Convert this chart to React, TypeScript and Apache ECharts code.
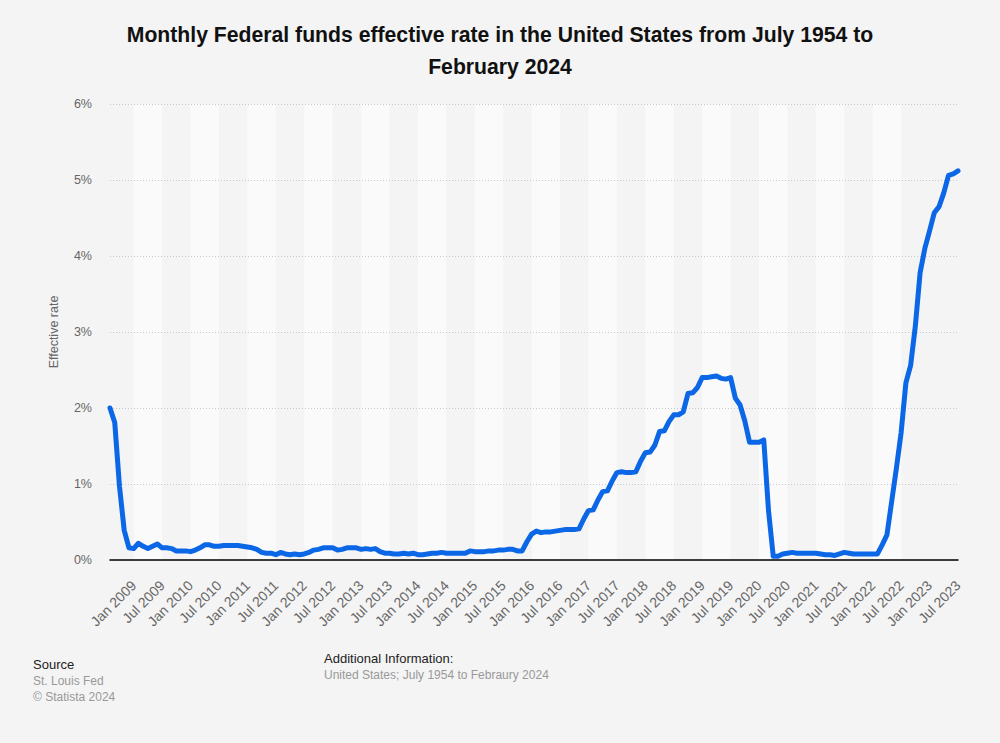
import React, { useEffect, useRef } from "react";
import * as echarts from "echarts";

const startYear = 2008;
const startMonth = 7; // 0-based, August
const monthNames = ["Jan", "Feb", "Mar", "Apr", "May", "Jun", "Jul", "Aug", "Sep", "Oct", "Nov", "Dec"];

const rates2008 = [2.0, 1.81, 0.97, 0.39, 0.16];
const rates2009 = [0.15, 0.22, 0.18, 0.15, 0.18, 0.21, 0.16, 0.16, 0.15, 0.12, 0.12, 0.12];
const rates2010 = [0.11, 0.13, 0.16, 0.2, 0.2, 0.18, 0.18, 0.19, 0.19, 0.19, 0.19, 0.18];
const rates2011 = [0.17, 0.16, 0.14, 0.1, 0.09, 0.09, 0.07, 0.1, 0.08, 0.07, 0.08, 0.07];
const rates2012 = [0.08, 0.1, 0.13, 0.14, 0.16, 0.16, 0.16, 0.13, 0.14, 0.16, 0.16, 0.16];
const rates2013 = [0.14, 0.15, 0.14, 0.15, 0.11, 0.09, 0.09, 0.08, 0.08, 0.09, 0.08, 0.09];
const rates2014 = [0.07, 0.07, 0.08, 0.09, 0.09, 0.1, 0.09, 0.09, 0.09, 0.09, 0.09, 0.12];
const rates2015 = [0.11, 0.11, 0.11, 0.12, 0.12, 0.13, 0.13, 0.14, 0.14, 0.12, 0.12, 0.24];
const rates2016 = [0.34, 0.38, 0.36, 0.37, 0.37, 0.38, 0.39, 0.4, 0.4, 0.4, 0.41, 0.54];
const rates2017 = [0.65, 0.66, 0.79, 0.9, 0.91, 1.04, 1.15, 1.16, 1.15, 1.15, 1.16, 1.3];
const rates2018 = [1.41, 1.42, 1.51, 1.69, 1.7, 1.82, 1.91, 1.91, 1.95, 2.19, 2.2, 2.27];
const rates2019 = [2.4, 2.4, 2.41, 2.42, 2.39, 2.38, 2.4, 2.13, 2.04, 1.83, 1.55, 1.55];
const rates2020 = [1.55, 1.58, 0.65, 0.05, 0.05, 0.08, 0.09, 0.1, 0.09, 0.09, 0.09, 0.09];
const rates2021 = [0.09, 0.08, 0.07, 0.07, 0.06, 0.08, 0.1, 0.09, 0.08, 0.08, 0.08, 0.08];
const rates2022 = [0.08, 0.08, 0.2, 0.33, 0.77, 1.21, 1.68, 2.33, 2.56, 3.08, 3.78, 4.1];
const rates2023 = [4.33, 4.57, 4.65, 4.83, 5.06, 5.08, 5.12];

const rates = [
  ...rates2008, ...rates2009, ...rates2010, ...rates2011, ...rates2012, ...rates2013,
  ...rates2014, ...rates2015, ...rates2016, ...rates2017, ...rates2018, ...rates2019,
  ...rates2020, ...rates2021, ...rates2022, ...rates2023,
];

const categories = rates.map((_, i) => {
  const m = startMonth + i;
  return `${monthNames[m % 12]} ${startYear + Math.floor(m / 12)}`;
});

const bandYears = [2009, 2010, 2011, 2012, 2013, 2014, 2015, 2016, 2017, 2018, 2019, 2020, 2021, 2022];
const yTicks = [0, 1, 2, 3, 4, 5, 6];

const FONT = "'Liberation Sans', Arial, Helvetica, sans-serif";

export default function App() {
  const ref = useRef<HTMLDivElement>(null);
  useEffect(() => {
    const chart = echarts.init(ref.current!, undefined, { renderer: "svg" });
    const isLabel = (idx: number) => {
      const m = (startMonth + idx) % 12;
      return m === 0 || m === 6;
    };
    chart.setOption({
      animation: false,
      backgroundColor: "#f4f4f4",
      textStyle: { fontFamily: FONT },
      title: {
        text: "Monthly Federal funds effective rate in the United States from July 1954 to\nFebruary 2024",
        left: "center",
        top: 13,
        textStyle: { fontSize: 21.2, fontWeight: "bold", color: "#111", lineHeight: 32, fontFamily: FONT },
      },
      grid: { left: 110, right: 42, top: 104, bottom: 183 },
      xAxis: {
        type: "category",
        data: categories,
        boundaryGap: false,
        z: 1.5,
        axisLine: { show: true, lineStyle: { color: "#000", width: 1.5 } },
        axisTick: { show: false },
        axisLabel: {
          interval: (idx: number) => isLabel(idx),
          rotate: 45,
          color: "#666",
          fontSize: 14,
          fontFamily: FONT,
          margin: 23,
        },
        splitLine: { show: false },
      },
      yAxis: {
        type: "value",
        min: 0,
        max: 6,
        interval: 1,
        z: 1.5,
        name: "Effective rate",
        nameLocation: "middle",
        nameGap: 50,
        nameTextStyle: { color: "#666", fontSize: 12.5, fontFamily: FONT },
        axisLine: { show: false },
        axisTick: { show: false },
        axisLabel: {
          color: "#666",
          fontSize: 12.5,
          margin: 18,
          fontFamily: FONT,
          formatter: (v: number) => (yTicks.includes(v) ? `${v}%` : ""),
        },
        splitLine: { show: true, lineStyle: { color: "#c8c8c8", type: [1, 2], width: 1 } },
      },
      series: [
        {
          type: "line",
          name: "bands",
          data: [],
          z: 1,
          silent: true,
          markArea: {
            silent: true,
            z: 1,
            itemStyle: { color: "#fafafa" },
            data: bandYears.map((y) => [{ xAxis: `Jan ${y}` }, { xAxis: `Jul ${y}` }]),
          },
        },
        {
          type: "line",
          name: "Effective rate",
          data: rates,
          showSymbol: false,
          symbol: "none",
          lineStyle: { color: "#0b67e6", width: 5, join: "round", cap: "round" },
          itemStyle: { color: "#0b67e6" },
          z: 3,
        },
      ],
      graphic: [
        { type: "text", left: 33, top: 658, style: { text: "Source", fill: "#222", fontSize: 13, fontFamily: FONT } },
        { type: "text", left: 33, top: 675, style: { text: "St. Louis Fed", fill: "#999", fontSize: 12, fontFamily: FONT } },
        { type: "text", left: 33, top: 691, style: { text: "© Statista 2024", fill: "#999", fontSize: 12, fontFamily: FONT } },
        { type: "text", left: 324, top: 652, style: { text: "Additional Information:", fill: "#222", fontSize: 13, fontFamily: FONT } },
        { type: "text", left: 324, top: 669, style: { text: "United States; July 1954 to Febraury 2024", fill: "#999", fontSize: 12, fontFamily: FONT } },
      ],
    });
    return () => chart.dispose();
  }, []);
  return <div ref={ref} style={{ position: "absolute", left: 0, top: 0, width: 1000, height: 743 }} />;
}
